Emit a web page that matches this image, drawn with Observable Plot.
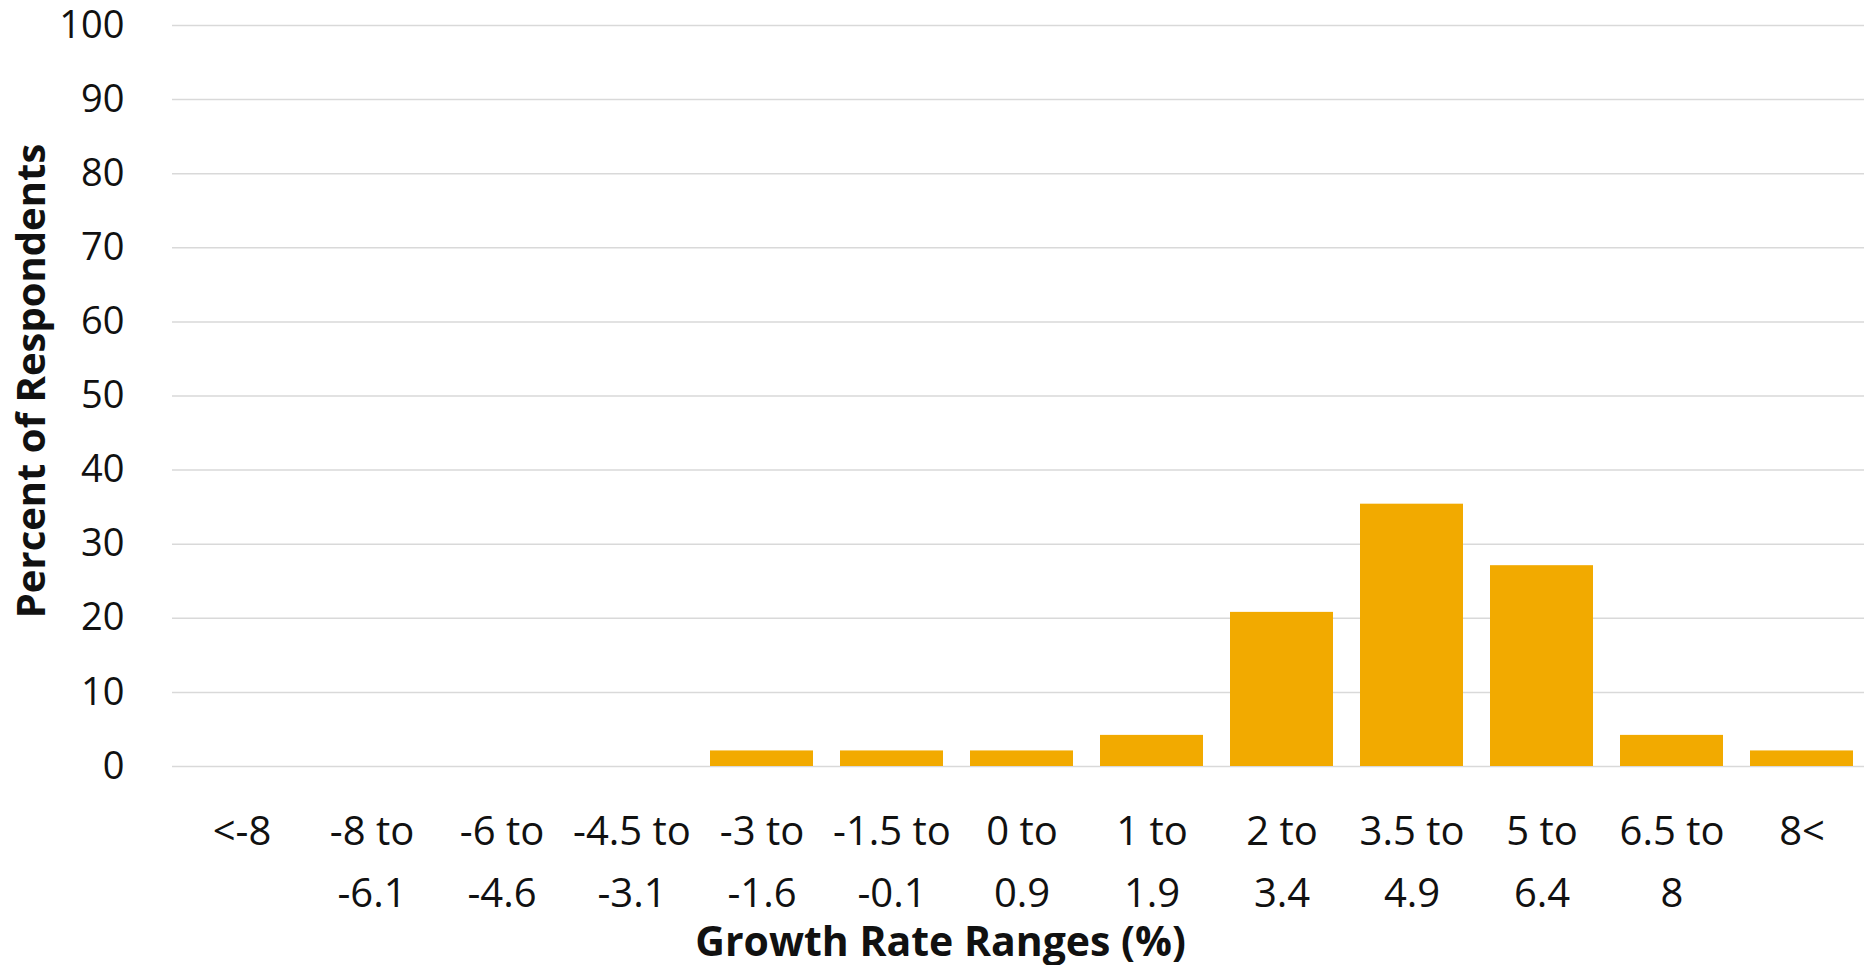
<!DOCTYPE html>
<html>
<head>
<meta charset="utf-8">
<script src="https://cdn.jsdelivr.net/npm/d3@7"></script>
<script src="https://cdn.jsdelivr.net/npm/@observablehq/plot@0.6"></script>
<style>
  html, body { margin: 0; padding: 0; background: #fff; }
  #chart svg { display: block; }
</style>
</head>
<body>
<div id="chart"></div>
<script>
const categories = ["<-8", "-8 to\n-6.1", "-6 to\n-4.6", "-4.5 to\n-3.1", "-3 to\n-1.6", "-1.5 to\n-0.1", "0 to\n0.9", "1 to\n1.9", "2 to\n3.4", "3.5 to\n4.9", "5 to\n6.4", "6.5 to\n8", "8<"];
const values = [0, 0, 0, 0, 2.1, 2.1, 2.1, 4.2, 20.8, 35.4, 27.1, 4.2, 2.1];
const yTicks = [0, 10, 20, 30, 40, 50, 60, 70, 80, 90, 100];
const xTitle = "Growth Rate Ranges (%)";
const yTitle = "Percent of Respondents";

const data = categories.map((c, i) => ({category: c, value: values[i]}));
const font = "'Open Sans', 'Noto Sans', sans-serif";

const chart = Plot.plot({
  width: 1864,
  height: 965,
  marginLeft: 172,
  marginRight: 0,
  marginTop: 25,
  marginBottom: 199,
  style: {fontFamily: font, fontSize: "38px", color: "#111", background: "#fff"},
  x: {domain: categories, range: [172, 1870], paddingInner: 0.21, paddingOuter: 0.105, label: null},
  y: {domain: [0, 100], label: null},
  marks: [
    Plot.ruleY(yTicks, {stroke: "#d9d9d9", strokeWidth: 1.5}),
    Plot.barY(data, {x: "category", y: "value", fill: "#f2aa00"}),
    Plot.axisY({ticks: yTicks, tickSize: 0, tickPadding: 48, fontSize: 38, label: null}),
    Plot.axisX({tickSize: 0, tickPadding: 34, fontSize: 40, lineHeight: 1.55, label: null}),
    Plot.text([yTitle], {text: d => d, frameAnchor: "left", textAnchor: "middle", dx: -140, dy: -15, rotate: -90, fontWeight: "bold", fontSize: 40, fill: "#111"}),
    Plot.text([xTitle], {text: d => d, frameAnchor: "bottom", dx: -78, dy: 189, fontWeight: "bold", fontSize: 41, fill: "#111"})
  ]
});
document.getElementById("chart").append(chart);
</script>
</body>
</html>
